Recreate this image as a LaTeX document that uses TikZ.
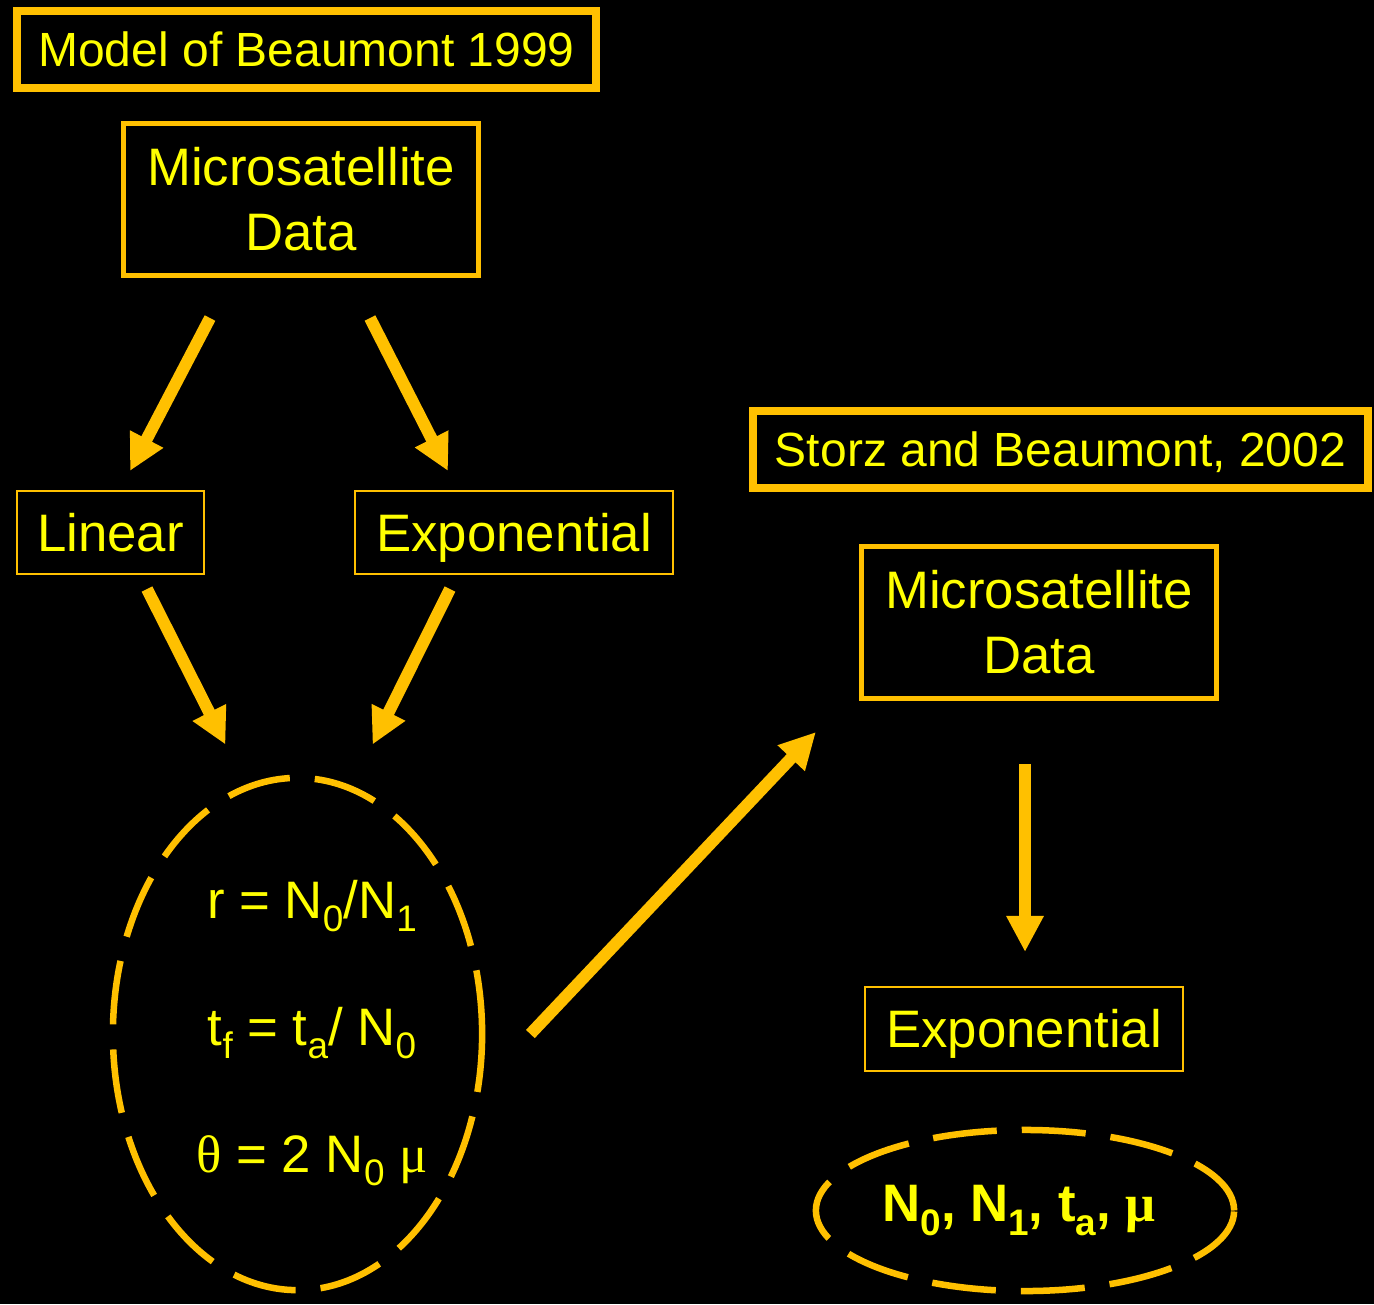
\documentclass[tikz,border=0pt]{standalone}
\usepackage{fontspec}
\setmainfont{Liberation Sans}
\newfontfamily\greekfont{Liberation Serif}
\usepackage{tikz}
\usetikzlibrary{arrows.meta, shapes.geometric, positioning, calc}
\usepackage{xcolor}
\definecolor{BeaumontGold}{RGB}{255,192,0}
\definecolor{LabelYellow}{RGB}{255,255,0}
\newcommand{\idx}[1]{\raisebox{-0.25em}{\fontsize{10.5}{12}\selectfont #1}}
\newcommand{\gr}[1]{{\greekfont #1}}

\tikzset{
  bigfont/.style={font=\fontsize{15}{18.5}\selectfont},
  titlefont/.style={font=\fontsize{13.65}{16}\selectfont},
  titlebox/.style={draw=BeaumontGold, line width=0.08cm, text=LabelYellow,
                   titlefont, inner sep=0pt, text height=9.8pt, text depth=0pt},
  databox/.style={draw=BeaumontGold, line width=0.05cm, text=LabelYellow,
                  bigfont, align=center, inner sep=0pt},
  modelbox/.style={draw=BeaumontGold, line width=0.02cm, text=LabelYellow,
                   bigfont, inner sep=0pt, text height=10.7pt, text depth=0pt},
  paramring/.style={ellipse, draw=BeaumontGold, line width=0.065cm,
                    dash pattern=on 0.64cm off 0.25cm, inner sep=0pt},
  fatarrow/.style={draw=BeaumontGold, line width=0.12cm,
                   -{Triangle[width=0.35cm, length=0.36cm]}}
}

\begin{document}
\begin{tikzpicture}[x=0.01cm, y=-0.01cm]
    \fill[black] (0,0) rectangle (1374,1304);

    % Beaumont 1999
    \node[titlebox, minimum width=5.79cm, minimum height=0.77cm] (beaumont)
      at (306.5,49.5) {Model of Beaumont 1999};
    \node[databox, minimum width=3.555cm, minimum height=1.52cm] (microA)
      at (301,199.5) {Microsatellite\\Data};
    \node[modelbox, minimum width=1.87cm, minimum height=0.83cm] (linear)
      at (110.5,532.5) {Linear};
    \node[modelbox, minimum width=3.18cm, minimum height=0.83cm] (expA)
      at (514,532.5) {Exponential};
    \node[paramring, minimum width=3.69cm, minimum height=5.12cm] (ratios)
      at (297.5,1034) {};
    \node[text=LabelYellow, font=\fontsize{15}{36.1}\selectfont, align=center]
      (ratioeqs) at (312,1033)
      {r = N\idx{0}/N\idx{1}\\
       t\idx{f} = t\idx{a}/ N\idx{0}\\
       \gr{θ} = 2 N\idx{0} \gr{μ}};

    % Storz and Beaumont 2002
    \node[titlebox, minimum width=6.15cm, minimum height=0.77cm] (storz)
      at (1060.5,449.5) {Storz and Beaumont, 2002};
    \node[databox, minimum width=3.55cm, minimum height=1.52cm] (microB)
      at (1039,622.5) {Microsatellite\\Data};
    \node[modelbox, minimum width=3.18cm, minimum height=0.84cm] (expB)
      at (1024,1029) {Exponential};
    \node[paramring, minimum width=4.18cm, minimum height=1.61cm,
          text=LabelYellow, bigfont] (estimates)
      at (1025,1210.5) {\bfseries N\idx{0}, N\idx{1}, t\idx{a}, \gr{μ}\hspace*{0.12cm}};

    % arrows
    \draw[fatarrow] ($(microA.south)+(-91,40)$) -- ($(linear.north)+(19.5,-19)$);
    \draw[fatarrow] ($(microA.south)+(69,40)$) -- ($(expA.north)+(-66,-19)$);
    \draw[fatarrow] ($(linear.south)+(36.5,14)$) -- ($(ratios.north)+(-72,-30)$);
    \draw[fatarrow] ($(expA.south)+(-64,14)$) -- ($(ratios.north)+(75,-30)$);
    \draw[fatarrow] ($(ratios.east)+(45,0)$) -- ($(microB.south west)+(-43,31)$);
    \draw[fatarrow] ($(microB.south)+(-14,63)$) -- ($(expB.north)+(1,-34)$);
\end{tikzpicture}
\end{document}
